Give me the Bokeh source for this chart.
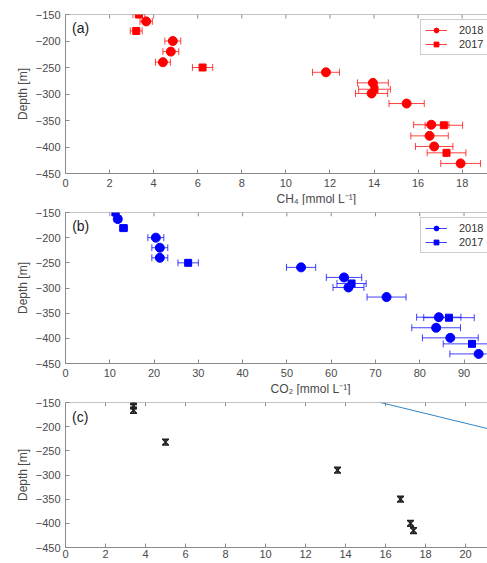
from bokeh.plotting import figure
from bokeh.models import Range1d, FixedTicker, Label, Legend, LegendItem, Title, ColumnDataSource, Span
from bokeh.layouts import column
from bokeh.embed import file_html
from bokeh.resources import INLINE
import math

# ---------------- data ----------------
# Panel (a): CH4 [mmol/L]
ch4_2018 = [3.66, 4.87, 4.78, 4.42, 11.82, 13.95, 13.89, 15.48, 16.60, 16.52, 16.73, 17.93]
ch4_2018_err = [0.28, 0.36, 0.36, 0.34, 0.61, 0.70, 0.73, 0.80, 0.80, 0.85, 0.85, 0.90]
depth_2018 = [-163, -200, -220, -240, -259, -279, -299, -318, -358, -379, -399, -431]

ch4_2017 = [3.33, 3.21, 6.22, 14.02, 17.17, 17.29]
ch4_2017_err = [0.27, 0.27, 0.46, 0.72, 0.85, 0.88]
depth_2017 = [-150, -181, -250, -291, -359, -411]

# Panel (b): CO2 [mmol/L]
co2_2018 = [11.8, 20.4, 21.3, 21.3, 53.2, 62.9, 63.9, 72.5, 84.3, 83.7, 86.9, 93.3]
co2_2018_err = [0.8, 1.8, 1.8, 1.8, 3.3, 4.0, 3.5, 4.4, 5.0, 5.5, 6.3, 6.5]
co2_2017 = [11.3, 13.1, 27.7, 64.6, 86.6, 91.8]
co2_2017_err = [0.8, 0.9, 2.3, 3.3, 5.7, 6.5]

# Panel (c)
c_x = [3.4, 3.4, 3.4, 5.0, 13.6, 16.75, 17.25, 17.4]
c_y = [-148, -157, -166, -232, -290, -350, -400, -415]
c_err = [6, 6, 6, 6, 6, 6, 6, 6]
line_x = [15.75, 21.2]
line_y = [-150, -205]

depth_ticks = [-450, -400, -350, -300, -250, -200, -150]
ticks_a = [0, 2, 4, 6, 8, 10, 12, 14, 16, 18]
ticks_b = [0, 10, 20, 30, 40, 50, 60, 70, 80, 90]
ticks_c = [0, 2, 4, 6, 8, 10, 12, 14, 16, 18, 20]

FONT = "Liberation Sans"
TXT = "#4a4a4a"
LINE = "#8a8a8a"


def style_axis(ax, ticks):
    ax.ticker = FixedTicker(ticks=ticks)
    ax.major_tick_in = 4
    ax.major_tick_out = 0
    ax.minor_tick_line_color = None
    ax.axis_line_color = LINE
    ax.major_tick_line_color = LINE
    ax.major_label_text_font = FONT
    ax.major_label_text_color = TXT
    ax.major_label_text_font_size = "11px"
    ax.major_label_standoff = 5


def make_fig(xmax, height, top, bottom, xticks):
    p = figure(width=487, height=height, x_range=Range1d(0, xmax),
               y_range=Range1d(-450, -150), output_backend="svg",
               toolbar_location=None, min_border_left=65, min_border_right=0,
               min_border_top=top, min_border_bottom=bottom)
    p.grid.visible = False
    p.outline_line_color = None
    style_axis(p.xaxis[0], xticks)
    style_axis(p.yaxis[0], depth_ticks)
    p.yaxis[0].axis_label = "Depth [m]"
    p.yaxis[0].axis_label_text_font = FONT
    p.yaxis[0].axis_label_text_font_size = "12px"
    p.yaxis[0].axis_label_text_font_style = "normal"
    p.yaxis[0].axis_label_text_color = TXT
    p.yaxis[0].axis_label_standoff = 3
    # top box edge with inward ticks (no labels)
    p.add_layout(Span(location=-150, dimension="width", line_color=LINE, line_width=1))
    p.segment(x0=xticks, x1=xticks, y0=[-150] * len(xticks), y1=[-157.5] * len(xticks),
              line_color=LINE, line_width=1)
    p.background_fill_color = "white"
    p.border_fill_color = "white"
    return p


def add_series(p, xs, errs, ys, color, marker, size):
    lo = [x - e for x, e in zip(xs, errs)]
    hi = [x + e for x, e in zip(xs, errs)]
    src = ColumnDataSource(dict(x=xs, y=ys, lo=lo, hi=hi))
    seg = p.segment(x0="lo", x1="hi", y0="y", y1="y", source=src,
                    line_color=color, line_width=1, line_alpha=0.75)
    p.scatter(x="lo", y="y", source=src, marker="dash", angle=math.pi / 2,
              size=7, line_color=color, line_width=1, line_alpha=0.75)
    p.scatter(x="hi", y="y", source=src, marker="dash", angle=math.pi / 2,
              size=7, line_color=color, line_width=1, line_alpha=0.75)
    mk = p.scatter(x="x", y="y", source=src, marker=marker, size=size,
                   fill_color=color, line_color=color)
    return [seg, mk]


def add_legend(p, r18, r17, loc):
    leg = Legend(items=[LegendItem(label="2018", renderers=r18),
                        LegendItem(label="2017", renderers=r17)],
                 location=loc, orientation="vertical",
                 label_text_font=FONT, label_text_font_size="11px",
                 label_text_color="#333333", glyph_width=22, glyph_height=12,
                 label_standoff=12, padding=4, spacing=2, margin=0,
                 border_line_color="#999999", background_fill_alpha=1)
    p.add_layout(leg, "center")


def add_xlabel(p, text, offset):
    t = Title(text=text, align="left", offset=offset, text_font=FONT,
              text_font_size="12px", text_font_style="normal",
              text_color=TXT, standoff=0)
    p.add_layout(t, "below")


# ---------------- panel (a) ----------------
pa = make_fig(19.15, 205, 14, 32, ticks_a)
r18 = add_series(pa, ch4_2018, ch4_2018_err, depth_2018, "#ff0000", "circle", 9)
r17 = add_series(pa, ch4_2017, ch4_2017_err, depth_2017, "#ff0000", "square", 7)
add_legend(pa, r18, r17, (355, 118))
add_xlabel(pa, "CH₄ [mmol L⁻¹]", 211)
pa.add_layout(Label(x=0.3, y=-176, text="(a)", text_font=FONT, text_font_size="14px",
                    text_color="#222222", text_baseline="middle"))

# ---------------- panel (b) ----------------
pb = make_fig(95.3, 190, 7, 31, ticks_b)
b18 = add_series(pb, co2_2018, co2_2018_err, depth_2018, "#0000ff", "circle", 9)
b17 = add_series(pb, co2_2017, co2_2017_err, depth_2017, "#0000ff", "square", 7)
add_legend(pb, b18, b17, (355, 110))
add_xlabel(pb, "CO₂ [mmol L⁻¹]", 205)
pb.add_layout(Label(x=1.5, y=-176, text="(b)", text_font=FONT, text_font_size="14px",
                    text_color="#222222", text_baseline="middle"))

# ---------------- panel (c) ----------------
pc = make_fig(21.1, 168, 7, 16, ticks_c)
pc.xaxis[0].major_label_standoff = 2
pc.line(x=line_x, y=line_y, line_color="#2f86c8", line_width=1)
csrc = ColumnDataSource(dict(x=c_x, y=c_y,
                             lo=[y - e for y, e in zip(c_y, c_err)],
                             hi=[y + e for y, e in zip(c_y, c_err)]))
pc.segment(x0="x", x1="x", y0="lo", y1="hi", source=csrc, line_color="#222222", line_width=1.2)
pc.scatter(x="x", y="lo", source=csrc, marker="dash", size=7, line_color="#222222", line_width=1.5)
pc.scatter(x="x", y="hi", source=csrc, marker="dash", size=7, line_color="#222222", line_width=1.5)
pc.scatter(x="x", y="y", source=csrc, marker="x", size=8, line_color="#222222", line_width=1.6)
pc.add_layout(Label(x=0.33, y=-179, text="(c)", text_font=FONT, text_font_size="14px",
                    text_color="#222222", text_baseline="middle"))

layout = column(pa, pb, pc, spacing=0)
open("out.html", "w").write(file_html(layout, INLINE))
